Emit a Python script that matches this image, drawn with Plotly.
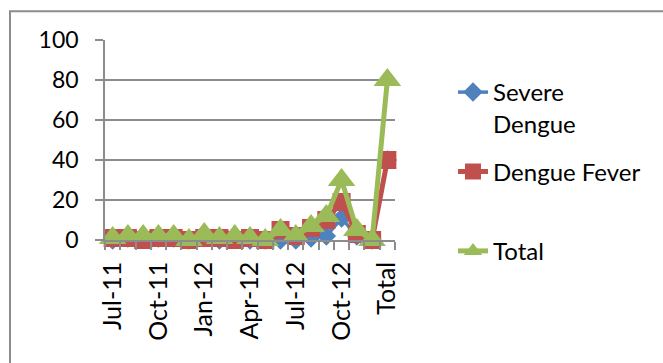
import plotly.graph_objects as go

# Monthly dengue case counts, Jul 2011 - Dec 2012, plus the overall total
months = ["Jul-11", "Aug-11", "Sep-11", "Oct-11", "Nov-11", "Dec-11",
          "Jan-12", "Feb-12", "Mar-12", "Apr-12", "May-12", "Jun-12",
          "Jul-12", "Aug-12", "Sep-12", "Oct-12", "Nov-12", "Dec-12", "Total"]
severe_dengue = [0, 1, 2, 1, 1, 0, 2, 0, 2, 0, 0, 0, 0, 1, 2, 11, 2, 0, 40]
dengue_fever = [1, 1, 0, 1, 1, 0, 1, 1, 0, 1, 0, 5, 2, 6, 10, 19, 3, 0, 40]
total_cases = [1, 2, 2, 2, 2, 0, 3, 1, 2, 1, 0, 5, 2, 7, 12, 30, 5, 0, 80]

# Only every third category gets a visible label
tick_text = [m if i % 3 == 0 else "" for i, m in enumerate(months)]

FONT = "Lato"
GRID = "#8c8c8c"

fig = go.Figure()
fig.add_trace(go.Scatter(
    x=months, y=severe_dengue, name="Severe<br>Dengue", mode="lines+markers",
    line=dict(color="#4F81BD", width=3.5),
    marker=dict(symbol="diamond", size=15, color="#4F81BD"),
    legendgroup="a", cliponaxis=False))
fig.add_trace(go.Scatter(
    x=months, y=dengue_fever, name="Dengue Fever<br> ", mode="lines+markers",
    line=dict(color="#C0504D", width=5),
    marker=dict(symbol="square", size=18, color="#C0504D"),
    legendgroup="b", cliponaxis=False))
fig.add_trace(go.Scatter(
    x=months, y=total_cases, name="Total", mode="lines+markers",
    line=dict(color="#9BBB59", width=5),
    marker=dict(symbol="triangle-up", size=24, color="#9BBB59"),
    legendgroup="c", cliponaxis=False))

fig.update_layout(
    width=663, height=363,
    margin=dict(l=105, r=268, t=40, b=123),
    paper_bgcolor="white", plot_bgcolor="white",
    font=dict(family=FONT, size=23, color="black"),
    showlegend=True,
    legend=dict(x=1.2, y=0.85, xanchor="left", yanchor="top",
                tracegroupgap=14, valign="top", maxheight=360,
                font=dict(family=FONT, size=24, color="black"),
                bgcolor="rgba(0,0,0,0)"),
    xaxis=dict(
        type="category", categoryorder="array", categoryarray=months,
        range=[-0.5, len(months) - 0.5],
        tickmode="array", tickvals=months, ticktext=tick_text,
        tickson="boundaries", ticks="outside", ticklen=8, tickwidth=1.5,
        tickcolor=GRID, tickangle=-90, ticklabelstandoff=10,
        tickfont=dict(family=FONT, size=25, color="black"),
        showline=True, linecolor=GRID, linewidth=1.5,
        showgrid=False, zeroline=False),
    yaxis=dict(
        range=[0, 100], tickvals=[0, 20, 40, 60, 80, 100],
        ticks="outside", ticklen=8, tickwidth=1.5, tickcolor=GRID,
        ticklabelstandoff=12,
        tickfont=dict(family=FONT, size=23, color="black"),
        showline=True, linecolor=GRID, linewidth=1.5,
        showgrid=True, gridcolor=GRID, gridwidth=1.5, zeroline=False),
    shapes=[dict(type="rect", xref="paper", yref="paper",
                 x0=-0.3276, x1=2.1, y0=-0.9, y1=1.144,
                 line=dict(color=GRID, width=2), fillcolor="rgba(0,0,0,0)",
                 layer="below")],
)

fig.write_html("out.html")
